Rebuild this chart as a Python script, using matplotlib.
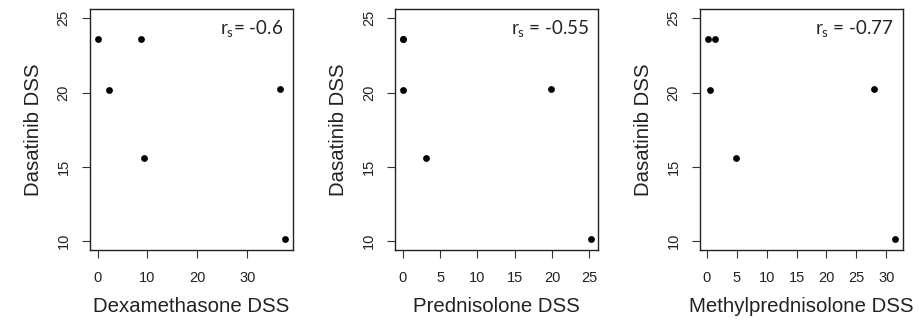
import matplotlib.pyplot as plt
import numpy as np

plt.rcParams['font.family'] = ['Liberation Sans', 'DejaVu Sans']
plt.rcParams['mathtext.fontset'] = 'custom'
plt.rcParams['mathtext.rm'] = 'Lato'
plt.rcParams['mathtext.it'] = 'Lato'

# Dasatinib DSS (shared y values)
dasatinib = [23.6, 20.15, 23.6, 15.62, 20.22, 10.16]

# x values per steroid
dexamethasone = [0.0, 2.4, 8.7, 9.3, 36.6, 37.6]
prednisolone = [0.0, 0.0, 0.0, 3.05, 19.9, 25.2]
methylpred = [0.1, 0.6, 1.3, 4.85, 27.9, 31.5]

x_labels = ["Dexamethasone DSS", "Prednisolone DSS", "Methylprednisolone DSS"]
rs_texts = ["= -0.6", " = -0.55", " = -0.77"]
x_ticks = [[0, 10, 20, 30], [0, 5, 10, 15, 20, 25], [0, 5, 10, 15, 20, 25, 30]]
y_ticks = [10, 15, 20, 25]

W, H = 919, 321
fig = plt.figure(figsize=(W / 100, H / 100), dpi=100)

# panel boxes in pixels: left, right, top, bottom
boxes = [(90, 292.7, 9.3, 250), (395.3, 598.3, 9.3, 250), (700, 902.7, 9.3, 250)]
xs = [dexamethasone, prednisolone, methylpred]
txt = '#222222'

for i in range(3):
    l, r, t, b = boxes[i]
    ax = fig.add_axes([l / W, 1 - b / H, (r - l) / W, (b - t) / H])
    x = np.array(xs[i])
    ax.scatter(x, dasatinib, s=24, color='black', zorder=3, linewidths=0)
    xmin, xmax = x.min(), x.max()
    pad = 0.04 * (xmax - xmin)
    ax.set_xlim(xmin - pad, xmax + pad)
    ax.set_ylim(10 - 0.6, 25 + 0.6)
    ax.set_xticks(x_ticks[i])
    ax.set_yticks(y_ticks)
    ax.tick_params(direction='out', length=6, width=0.8, labelsize=10.5,
                   labelcolor=txt, color='#333333')
    ax.tick_params(axis='x', pad=9)
    ax.tick_params(axis='y', pad=8)
    for lab in ax.get_yticklabels():
        lab.set_rotation(90)
        lab.set_va('center')
    for sp in ax.spines.values():
        sp.set_linewidth(1.0)
        sp.set_color('#222222')
    ax.set_xlabel(x_labels[i], fontsize=14.7, color=txt, labelpad=9)
    ax.set_ylabel("Dasatinib DSS", fontsize=14.7, color=txt, labelpad=10)
    ax.text(0.955, 0.965, r'$\mathrm{r_s}$' + rs_texts[i], family=['Lato', 'DejaVu Sans'],
            transform=ax.transAxes, ha='right', va='top', fontsize=13.5, color=txt)

fig.savefig('out.png', dpi=100)
